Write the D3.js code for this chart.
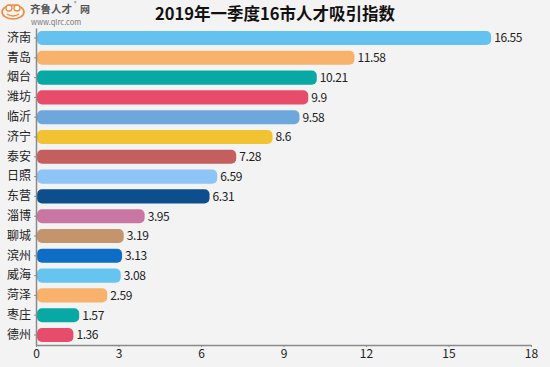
<!DOCTYPE html>
<html><head><meta charset="utf-8">
<script src="https://cdn.jsdelivr.net/npm/d3@7"></script>
<style>
html,body{margin:0;padding:0;background:#f3f3f3;}
svg{display:block;}
text{font-family:"Noto Sans CJK SC","Microsoft YaHei",sans-serif;}
</style></head><body>
<svg id="chart" width="550" height="367"></svg>
<script>
const cities = ["济南","青岛","烟台","潍坊","临沂","济宁","泰安","日照","东营","淄博","聊城","滨州","威海","菏泽","枣庄","德州"];
const values = [16.55,11.58,10.21,9.9,9.58,8.6,7.28,6.59,6.31,3.95,3.19,3.13,3.08,2.59,1.57,1.36];
const labels = ["16.55","11.58","10.21","9.9","9.58","8.6","7.28","6.59","6.31","3.95","3.19","3.13","3.08","2.59","1.57","1.36"];
const colors = ["#63c2ef","#f8b26b","#08a9a5","#e84c6b","#6ea7dc","#f1c232","#c55f5f","#8ec4f6","#0d4f8c","#c976a3","#c4956d","#0e6ec6","#66c5f0","#f8b26b","#08a9a5","#e84c6b"];
const xTicks = [0,3,6,9,12,15,18];
const title = "2019年一季度16市人才吸引指数";

const svg = d3.select("#chart");
const x = d3.scaleLinear().domain([0,18]).range([36,531]);
const y = d3.scaleBand().domain(cities).range([28,345]).paddingInner(0.29).paddingOuter(0.15);

// title
svg.append("text").attr("x",275).attr("y",20).attr("text-anchor","middle")
  .attr("font-size",16.5).attr("font-weight","bold").attr("fill","#111").text(title);

// logo
const logo = svg.append("g");
logo.append("ellipse").attr("cx",13).attr("cy",12).attr("rx",11).attr("ry",7).attr("fill","none").attr("stroke","#f08a3c").attr("stroke-width",1.6);
logo.append("circle").attr("cx",9).attr("cy",8).attr("r",3).attr("fill","#fff").attr("stroke","#f08a3c").attr("stroke-width",1.3);
logo.append("circle").attr("cx",17).attr("cy",8).attr("r",3).attr("fill","#fff").attr("stroke","#f08a3c").attr("stroke-width",1.3);
logo.append("path").attr("d","M7,14 Q13,18 19,14").attr("fill","none").attr("stroke","#f08a3c").attr("stroke-width",1.3);
logo.append("text").attr("x",30).attr("y",13).attr("font-size",10.5).attr("font-weight","bold").attr("fill","#555").text("齐鲁人才");
logo.append("text").attr("x",74).attr("y",5).attr("font-size",5).attr("fill","#666").text("®");
logo.append("text").attr("x",80).attr("y",13).attr("font-size",10).attr("font-weight","bold").attr("fill","#555").text("网");
logo.append("text").attr("x",31).attr("y",25).attr("font-size",7.5).attr("fill","#777").attr("font-family","Liberation Sans, Arial").text("www.qlrc.com");

// bars
svg.selectAll("rect.bar").data(cities).enter().append("rect")
  .attr("class","bar")
  .attr("x",x(0)+1)
  .attr("y",d=>y(d))
  .attr("width",(d,i)=>x(values[i])-x(0)-1)
  .attr("height",y.bandwidth())
  .attr("rx",5).attr("ry",5)
  .attr("fill",(d,i)=>colors[i]);

// value labels
svg.selectAll("text.val").data(cities).enter().append("text")
  .attr("class","val")
  .attr("x",(d,i)=>x(values[i])+3)
  .attr("y",d=>y(d)+y.bandwidth()/2)
  .attr("dy","0.36em")
  .attr("font-size",12).attr("fill","#222")
  .attr("font-family","DejaVu Sans, Verdana, sans-serif")
  .attr("letter-spacing","-0.4")
  .text((d,i)=>labels[i]);

// y axis
const yAxis = d3.axisLeft(y).tickSize(2).tickPadding(3).tickSizeOuter(0);
const gy = svg.append("g").attr("transform","translate(36,0)").call(yAxis);
gy.select(".domain").attr("stroke","#8a8a8a").attr("stroke-width",1.5);
gy.selectAll(".tick line").attr("stroke","#8a8a8a");
gy.selectAll("text").attr("font-size",12).attr("fill","#222").attr("font-family","Noto Sans CJK SC, sans-serif");

// x axis
const xAxis = d3.axisBottom(x).tickValues(xTicks).tickSize(2).tickPadding(2).tickSizeOuter(0);
const gx = svg.append("g").attr("transform","translate(0,345)").call(xAxis);
gx.select(".domain").attr("stroke","#8a8a8a").attr("stroke-width",1.5);
gx.selectAll(".tick line").attr("stroke","#8a8a8a");
gx.selectAll("text").attr("font-size",12).attr("fill","#222").attr("font-family","DejaVu Sans, Verdana, sans-serif");
</script>
</body></html>
